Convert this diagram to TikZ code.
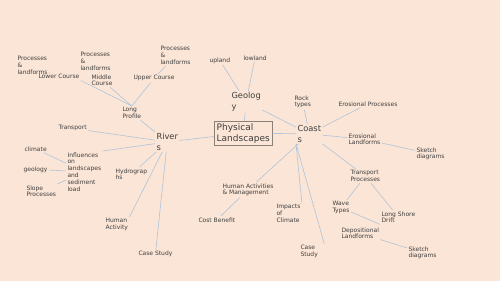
\documentclass[tikz,border=0pt]{standalone}
\usepackage{fontspec}
\setmainfont{DejaVu Sans}
\usepackage{xcolor}
\usetikzlibrary{positioning}

\definecolor{bgpeach}{HTML}{FBE5D6}
\definecolor{linkblue}{HTML}{AFC3DA}
\definecolor{inkgrey}{HTML}{3F3F3F}
\definecolor{framegrey}{HTML}{8C7F76}

\begin{document}
\begin{tikzpicture}[
  x=1pt, y=-1pt,
  leaf/.style={
    anchor=north west,
    align=left,
    inner sep=0pt,
    outer sep=1.5pt,
    text=inkgrey,
    font=\fontsize{6}{6.8}\selectfont
  },
  hub/.style={
    leaf,
    font=\fontsize{8.3}{10.5}\selectfont
  },
  centre/.style={
    anchor=north west,
    draw=framegrey,
    align=left,
    inner xsep=2.5pt,
    inner ysep=2pt,
    text=inkgrey,
    font=\fontsize{9}{11}\selectfont
  },
  link/.style={draw=linkblue,line width=0.6pt}
]
  \fill[bgpeach] (0,0) rectangle (500,281);
  \useasboundingbox (0,0) rectangle (500,281);

  % centre
  \node[centre] (phys) at (214,121) {Physical\\Landscapes};

  % rivers branch
  \node[hub] (rivers) at (155,132) {River\\s};
  \node[leaf] (profile) at (121,106) {Long\\Profile};
  \node[leaf] (lower) at (37,73) {Lower Course};
  \node[leaf] (lowerproc) at (16,55) {Processes\\\&\\landforms};
  \node[leaf] (middle) at (90,73) {Middle\\Course};
  \node[leaf] (middleproc) at (79,51) {Processes\\\&\\landforms};
  \node[leaf] (upper) at (132,74) {Upper Course};
  \node[leaf] (upperproc) at (159,45) {Processes\\\&\\landforms};
  \node[leaf] (transport) at (57,124) {Transport};
  \node[leaf] (influences) at (66,151) {Influences\\on\\landscapes\\and\\sediment\\load};
  \node[leaf] (climate) at (23,145) {climate};
  \node[leaf] (geology) at (22,165) {geology};
  \node[leaf] (slope) at (25,184) {Slope\\Processes};
  \node[leaf] (hydro) at (114,167) {Hydrograp\\hs};
  \node[leaf] (humanact) at (104,217) {Human\\Activity};
  \node[leaf] (rcase) at (137,249) {Case Study};

  % geology branch
  \node[hub] (geo) at (230,91) {Geolog\\y};
  \node[leaf] (upland) at (208,56) {upland};
  \node[leaf] (lowland) at (242,54) {lowland};

  % coasts branch
  \node[hub] (coasts) at (296,124) {Coast\\s};
  \node[leaf] (rock) at (293,94) {Rock\\types};
  \node[leaf] (eproc) at (337,100) {Erosional Processes};
  \node[leaf] (eland) at (347,132) {Erosional\\Landforms};
  \node[leaf] (sketchup) at (415,146) {Sketch\\diagrams};
  \node[leaf] (tproc) at (349,169) {Transport\\Processes};
  \node[leaf] (wave) at (331,200) {Wave\\Types};
  \node[leaf] (lsd) at (380,210) {Long Shore\\Drift};
  \node[leaf] (dland) at (340,226) {Depositional\\Landforms};
  \node[leaf] (sketchdown) at (407,245) {Sketch\\diagrams};
  \node[leaf] (humman) at (221,182) {Human Activities\\\& Management};
  \node[leaf] (cost) at (197,216) {Cost Benefit};
  \node[leaf] (impacts) at (275,203) {Impacts\\of\\Climate};
  \node[leaf] (ccase) at (299,244) {Case\\Study};

  % rivers links
  \draw[link] (rivers) -- (phys);
  \draw[link] (profile) -- (rivers);
  \draw[link] (lower.south east) -- (profile.north);
  \draw[link] (lowerproc) -- (lower);
  \draw[link] (middle) -- (profile.north);
  \draw[link] (middleproc) -- (middle);
  \draw[link] (upper) -- (profile.north);
  \draw[link] (upperproc) -- (upper);
  \draw[link] (transport) -- (rivers);
  \draw[link] (influences.north east) -- (rivers);
  \draw[link] (climate) -- (influences);
  \draw[link] (geology) -- (influences);
  \draw[link] (slope) -- (influences);
  \draw[link] (hydro) -- (rivers);
  \draw[link] (humanact.north east) -- (rivers);
  \draw[link] (rcase) -- (rivers);

  % geology links
  \draw[link] (geo) -- (phys);
  \draw[link] (upland) -- (geo);
  \draw[link] (lowland) -- (geo);
  \draw[link] (geo) -- (coasts);

  % coasts links
  \draw[link] (phys) -- (coasts);
  \draw[link] (rock) -- (coasts);
  \draw[link] (eproc) -- (coasts);
  \draw[link] (coasts) -- (eland);
  \draw[link] (eland) -- (sketchup);
  \draw[link] (coasts) -- (tproc);
  \draw[link] (tproc) -- (wave);
  \draw[link] (tproc) -- (lsd);
  \draw[link] (wave) -- (lsd.south west);
  \draw[link] (dland) -- (sketchdown);
  \draw[link] (coasts) -- (humman);
  \draw[link] (humman) -- (cost);
  \draw[link] (coasts.south west) -- (impacts.north east);
  \draw[link] (coasts.south west) -- ([xshift=5pt]ccase.north east);
\end{tikzpicture}
\end{document}
